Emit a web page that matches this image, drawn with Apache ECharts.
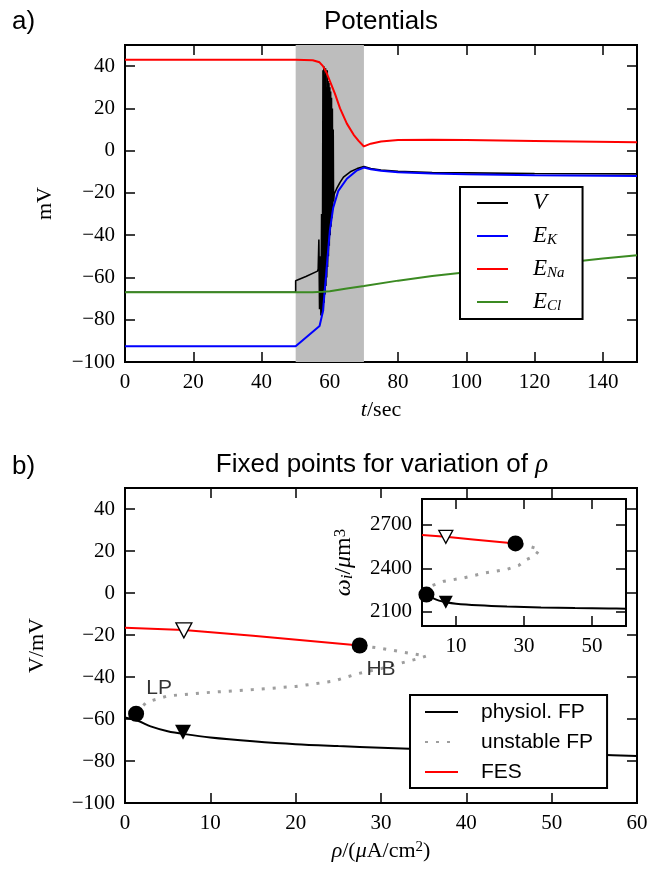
<!DOCTYPE html>
<html><head><meta charset="utf-8">
<script src="https://cdn.jsdelivr.net/npm/echarts@6/dist/echarts.min.js"></script>
<style>html,body{margin:0;padding:0;background:#fff}#c{width:647px;height:871px}</style>
</head><body><div id="c"></div><script>
// ---------- Panel a: potentials vs time (t in sec, values in mV) ----------
const shadeSpan = [50, 70];
const vTrace = [[0,-67],[50,-67],[50,-61.5],[53,-59.5],[56.4,-57],[56.6,-56],[56.8,-42],[57.0,-75],[57.2,-50],[57.4,-78],
  [57.6,-30],[57.8,-77],[58.0,38],[58.1,-76],[58.25,40],[58.35,-72],[58.5,36],[58.6,-68],[58.75,39],[58.85,-64],
  [59.0,30],[59.1,-60],[59.25,38],[59.35,-55],[59.5,33],[59.6,-50],[59.75,32],[59.85,-45],[60.0,30],[60.1,-40],
  [60.25,28],[60.35,-36],[60.5,25],[60.6,-32],[60.75,20],[60.85,-28],[61.0,10],[61.1,-24],[61.3,-20.5],[62,-18],
  [63,-15],[64,-12.5],[66,-10],[68,-8.5],[70,-7.5],[72,-8.5],[75,-9.2],[80,-9.8],[90,-10.3],[100,-10.5],[120,-10.8],[150,-11]];
const eK = [[0,-92.5],[50,-92.5],[57,-83],[58,-76],[59,-57],[60,-38],[61,-27],[62.5,-19],[65,-13.3],[68,-9.3],[70,-8],
  [72,-8.8],[75,-9.5],[80,-10.2],[90,-10.8],[100,-11.2],[120,-11.6],[150,-12]];
const eNa = [[0,43],[50,43],[55,42.8],[57,41.8],[58,40],[59,37],[60,33],[61.5,27],[63,20],[65,12.8],[67,7.5],[68.5,4.5],
  [70,2],[72,3.3],[75,4.3],[80,5],[90,5.2],[100,5],[120,4.6],[150,4]];
const eCl = [[0,-67],[55,-67],[58,-66.8],[60,-66.5],[65,-65.2],[70,-64],[80,-61.5],[90,-59.3],[100,-57.5],[110,-55.8],
  [120,-54.5],[130,-52.8],[140,-51],[150,-49.5]];

// ---------- Panel b: fixed points vs rho ----------
const physFP = [[0,-59.3],[1.5,-60.8],[3,-63.5],[5,-65.8],[7,-67.2],[10,-68.8],[15,-70.6],[20,-72],[25,-72.9],[30,-73.7],
  [35,-74.4],[40,-75],[45,-75.6],[50,-76.2],[55,-76.9],[60,-77.6]];
const unstableFP = [[1.3,-57.5],[2.5,-52],[5,-49],[10,-47.3],[15,-46],[20,-44.5],[24.4,-42],[27.2,-38.5],[30,-36],
  [32.2,-33.5],[34.6,-31],[35.3,-30],[33.8,-29],[29.9,-26.3],[27.5,-25]];
const fes = [[0,-16.5],[6.9,-17.6],[15,-20.3],[27.5,-25]];
const bifPoints = [[1.3,-57.5],[27.5,-25]];
const stableTri = [[6.8,-66.3]];
const fesTri = [[6.9,-17.8]];
const annotations = [{name:'LP', value:[4.0,-45.4]},{name:'HB', value:[30.0,-36.1]}];

// ---------- Inset: cell volume omega_i (um^3) vs rho ----------
const physW = [[0,2228],[1.3,2218],[3,2195],[5,2176],[7,2165],[10,2155],[16.5,2144],[25,2135],[35,2128],[45,2124],[55,2122],[60,2120]];
const unstableW = [[1.3,2218],[3.1,2281],[6.5,2310],[12.4,2334],[18.7,2368],[25,2393],[28.5,2420],[30.3,2456],
  [33.2,2486],[34.6,2530],[31.5,2553],[27.5,2572]];
const fesW = [[0,2630],[7,2618],[15,2600],[27.5,2572]];
const bifW = [[1.3,2218],[27.5,2572]];
const stableTriW = [[7,2165]];
const fesTriW = [[7,2618]];
const insetTicksX = [10,30,50];
const insetTicksY = [2100,2400,2700];

const SERIF = 'Liberation Serif', SANS = 'Liberation Sans';
const minus = v => String(v).replace('-', '\u2212');

function axis(gi, position, min, max, interval, labels, extra, showMax, custom) {
  const tick = {show:true, inside:true, length:10, lineStyle:{color:'#000', width:1.5}};
  const lab = labels ? {show:true, fontFamily:SERIF, fontSize:21, color:'#000', margin:10,
      showMaxLabel:!!showMax, formatter:minus} : {show:false};
  if (custom) { tick.customValues = custom; if (labels) lab.customValues = custom; }
  const a = {
    type:'value', gridIndex:gi, position, min, max,
    axisLine:{show:false, onZero:false},
    axisTick:tick, splitLine:{show:false}, axisLabel:lab
  };
  if (interval != null) a.interval = interval;
  return Object.assign(a, extra || {});
}
const nameStyle = (fs) => ({fontFamily:SERIF, fontSize:fs, color:'#000',
  rich:{
    i:{fontFamily:SERIF, fontStyle:'italic', fontSize:fs, color:'#000'},
    r:{fontFamily:SERIF, fontSize:fs, color:'#000'},
    sub:{fontFamily:SERIF, fontStyle:'italic', fontSize:Math.round(fs*0.7), color:'#000', verticalAlign:'bottom', lineHeight:14},
    sup:{fontFamily:SERIF, fontSize:Math.round(fs*0.7), color:'#000', verticalAlign:'top', lineHeight:12}
  }});

const legendA = {V:'{g|}{i|V}', E_K:'{g|}{i|E}{s|K}', E_Na:'{g|}{i|E}{s|Na}', E_Cl:'{g|}{i|E}{s|Cl}'};

const chart = echarts.init(document.getElementById('c'), null, {renderer:'canvas'});
chart.setOption({
  animation:false,
  backgroundColor:'#fff',
  graphic:[
    {type:'text', x:12, y:22, style:{text:'a)', fontFamily:SANS, fontSize:26, fill:'#000', textVerticalAlign:'middle'}},
    {type:'text', x:381, y:22, style:{text:'Potentials', fontFamily:SANS, fontSize:26, fill:'#000', textAlign:'center', textVerticalAlign:'middle'}},
    {type:'text', x:12, y:467, style:{text:'b)', fontFamily:SANS, fontSize:26, fill:'#000', textVerticalAlign:'middle'}},
    {type:'text', x:382, y:465, style:{text:'{s|Fixed points for variation of }{r|ρ}', textAlign:'center', textVerticalAlign:'middle',
      rich:{s:{fontFamily:SANS, fontSize:26, fill:'#000'}, r:{fontFamily:SERIF, fontStyle:'italic', fontSize:27, fill:'#000'}}}}
  ],
  grid:[
    {left:125, top:45, width:512, height:317, show:true, borderColor:'#000', borderWidth:2, backgroundColor:'transparent', outerBoundsMode:'none', containLabel:false},
    {left:125, top:488, width:512, height:315, show:true, borderColor:'#000', borderWidth:2, backgroundColor:'transparent', outerBoundsMode:'none', containLabel:false},
    {left:422, top:499, width:204, height:127, show:true, borderColor:'#000', borderWidth:2, backgroundColor:'#fff', z:5, outerBoundsMode:'none', containLabel:false}
  ],
  xAxis:[
    axis(0,'bottom',0,150,20,true,{name:'{i|t}{r|/sec}', nameLocation:'middle', nameGap:37, nameTextStyle:nameStyle(22)}),
    axis(0,'top',0,150,20,false),
    axis(1,'bottom',0,60,10,true,{name:'{i|ρ}{r|/(}{i|μ}{r|A/cm}{sup|2}{r|)}', nameLocation:'middle', nameGap:37, nameTextStyle:nameStyle(22)}, true),
    axis(1,'top',0,60,10,false),
    axis(2,'bottom',0,60,null,true,{z:6}, true, insetTicksX),
    axis(2,'top',0,60,null,false,{z:6}, false, insetTicksX)
  ],
  yAxis:[
    axis(0,'left',-100,50,20,true,{name:'mV', nameLocation:'middle', nameGap:69, nameTextStyle:nameStyle(22)}),
    axis(0,'right',-100,50,20,false),
    axis(1,'left',-100,50,20,true,{name:'{r|V/mV}', nameLocation:'middle', nameGap:77, nameTextStyle:nameStyle(22)}),
    axis(1,'right',-100,50,20,false),
    axis(2,'left',2000,2880,null,true,{z:6, name:'{i|ω}{sub|i}{r|/}{i|μ}{r|m}{sup|3}', nameLocation:'middle', nameGap:66, nameTextStyle:nameStyle(24)}, true, insetTicksY),
    axis(2,'right',2000,2880,null,false,{z:6}, false, insetTicksY)
  ],
  legend:[
    {data:['V','E_K','E_Na','E_Cl'], orient:'vertical', left:460, top:187, padding:[4,18,5,16], itemGap:9,
     itemWidth:31, itemHeight:14, borderColor:'#000', borderWidth:2, backgroundColor:'#fff', borderRadius:0,
     itemStyle:{opacity:0}, selectedMode:false, formatter:n => legendA[n],
     textStyle:{fontFamily:SERIF, fontSize:23, lineHeight:24, color:'#000',
       rich:{g:{width:20}, i:{fontFamily:SERIF, fontStyle:'italic', fontSize:23, lineHeight:24},
             s:{fontFamily:SERIF, fontStyle:'italic', fontSize:15, verticalAlign:'bottom', lineHeight:16}}}},
    {data:['physiol. FP','unstable FP','FES'], orient:'vertical', left:410, top:695, padding:[6,14,5,14], itemGap:8,
     itemWidth:33, itemHeight:14, borderColor:'#000', borderWidth:2, backgroundColor:'#fff', borderRadius:0,
     itemStyle:{opacity:0}, selectedMode:false, formatter:n => '{g|}' + n,
     textStyle:{fontFamily:SANS, fontSize:21, lineHeight:22, color:'#000', rich:{g:{width:18}}}}
  ],
  series:[
    {name:'shade', type:'line', xAxisIndex:0, yAxisIndex:0, data:[[shadeSpan[0],-100]], symbol:'none', lineStyle:{opacity:0}, z:1,
     markArea:{silent:true, itemStyle:{color:'#bdbdbd', opacity:1}, data:[[{xAxis:shadeSpan[0]},{xAxis:shadeSpan[1]}]]}},
    {name:'V', type:'line', xAxisIndex:0, yAxisIndex:0, data:vTrace, symbol:'none', color:'#000', lineStyle:{color:'#000', width:1.6}, z:3},
    {name:'E_K', type:'line', xAxisIndex:0, yAxisIndex:0, data:eK, symbol:'none', color:'#0000ff', lineStyle:{color:'#0000ff', width:2}, z:3},
    {name:'E_Na', type:'line', xAxisIndex:0, yAxisIndex:0, data:eNa, symbol:'none', color:'#ff0000', lineStyle:{color:'#ff0000', width:2}, z:3},
    {name:'E_Cl', type:'line', xAxisIndex:0, yAxisIndex:0, data:eCl, symbol:'none', color:'#3b8a22', lineStyle:{color:'#3b8a22', width:2}, z:3},

    {name:'physiol. FP', type:'line', xAxisIndex:2, yAxisIndex:2, data:physFP, symbol:'none', smooth:0.3, color:'#000', lineStyle:{color:'#000', width:2}, z:3},
    {name:'unstable FP', type:'line', xAxisIndex:2, yAxisIndex:2, data:unstableFP, symbol:'none', color:'#9e9e9e', lineStyle:{color:'#9e9e9e', width:3, type:[3,8]}, z:3},
    {name:'FES', type:'line', xAxisIndex:2, yAxisIndex:2, data:fes, symbol:'none', color:'#ff0000', lineStyle:{color:'#ff0000', width:2}, z:3},
    {name:'bif', type:'scatter', xAxisIndex:2, yAxisIndex:2, data:bifPoints, symbol:'circle', symbolSize:16, itemStyle:{color:'#000', opacity:1}, z:5},
    {name:'stableTri', type:'scatter', xAxisIndex:2, yAxisIndex:2, data:stableTri, symbol:'triangle', symbolRotate:180, symbolSize:[16,15], itemStyle:{color:'#000', opacity:1}, z:5},
    {name:'fesTri', type:'scatter', xAxisIndex:2, yAxisIndex:2, data:fesTri, symbol:'triangle', symbolRotate:180, symbolSize:[16,15], itemStyle:{color:'#fff', borderColor:'#000', borderWidth:1.3, opacity:1}, z:5},
    {name:'notes', type:'scatter', xAxisIndex:2, yAxisIndex:2, data:annotations, symbolSize:0,
     label:{show:true, position:'inside', formatter:p => p.name, fontFamily:SANS, fontSize:21, color:'#000'}, z:5},

    {name:'physW', type:'line', xAxisIndex:4, yAxisIndex:4, data:physW, symbol:'none', smooth:0.3, lineStyle:{color:'#000', width:2}, z:7},
    {name:'unstW', type:'line', xAxisIndex:4, yAxisIndex:4, data:unstableW, symbol:'none', lineStyle:{color:'#9e9e9e', width:3, type:[3,8]}, z:7},
    {name:'fesW', type:'line', xAxisIndex:4, yAxisIndex:4, data:fesW, symbol:'none', lineStyle:{color:'#ff0000', width:2}, z:7},
    {name:'bifW', type:'scatter', xAxisIndex:4, yAxisIndex:4, data:bifW, symbol:'circle', symbolSize:16, itemStyle:{color:'#000', opacity:1}, z:8},
    {name:'stableTriW', type:'scatter', xAxisIndex:4, yAxisIndex:4, data:stableTriW, symbol:'triangle', symbolRotate:180, symbolSize:[14,13], itemStyle:{color:'#000', opacity:1}, z:8},
    {name:'fesTriW', type:'scatter', xAxisIndex:4, yAxisIndex:4, data:fesTriW, symbol:'triangle', symbolRotate:180, symbolSize:[14,13], itemStyle:{color:'#fff', borderColor:'#000', borderWidth:1.3, opacity:1}, z:8}
  ]
});
</script></body></html>
